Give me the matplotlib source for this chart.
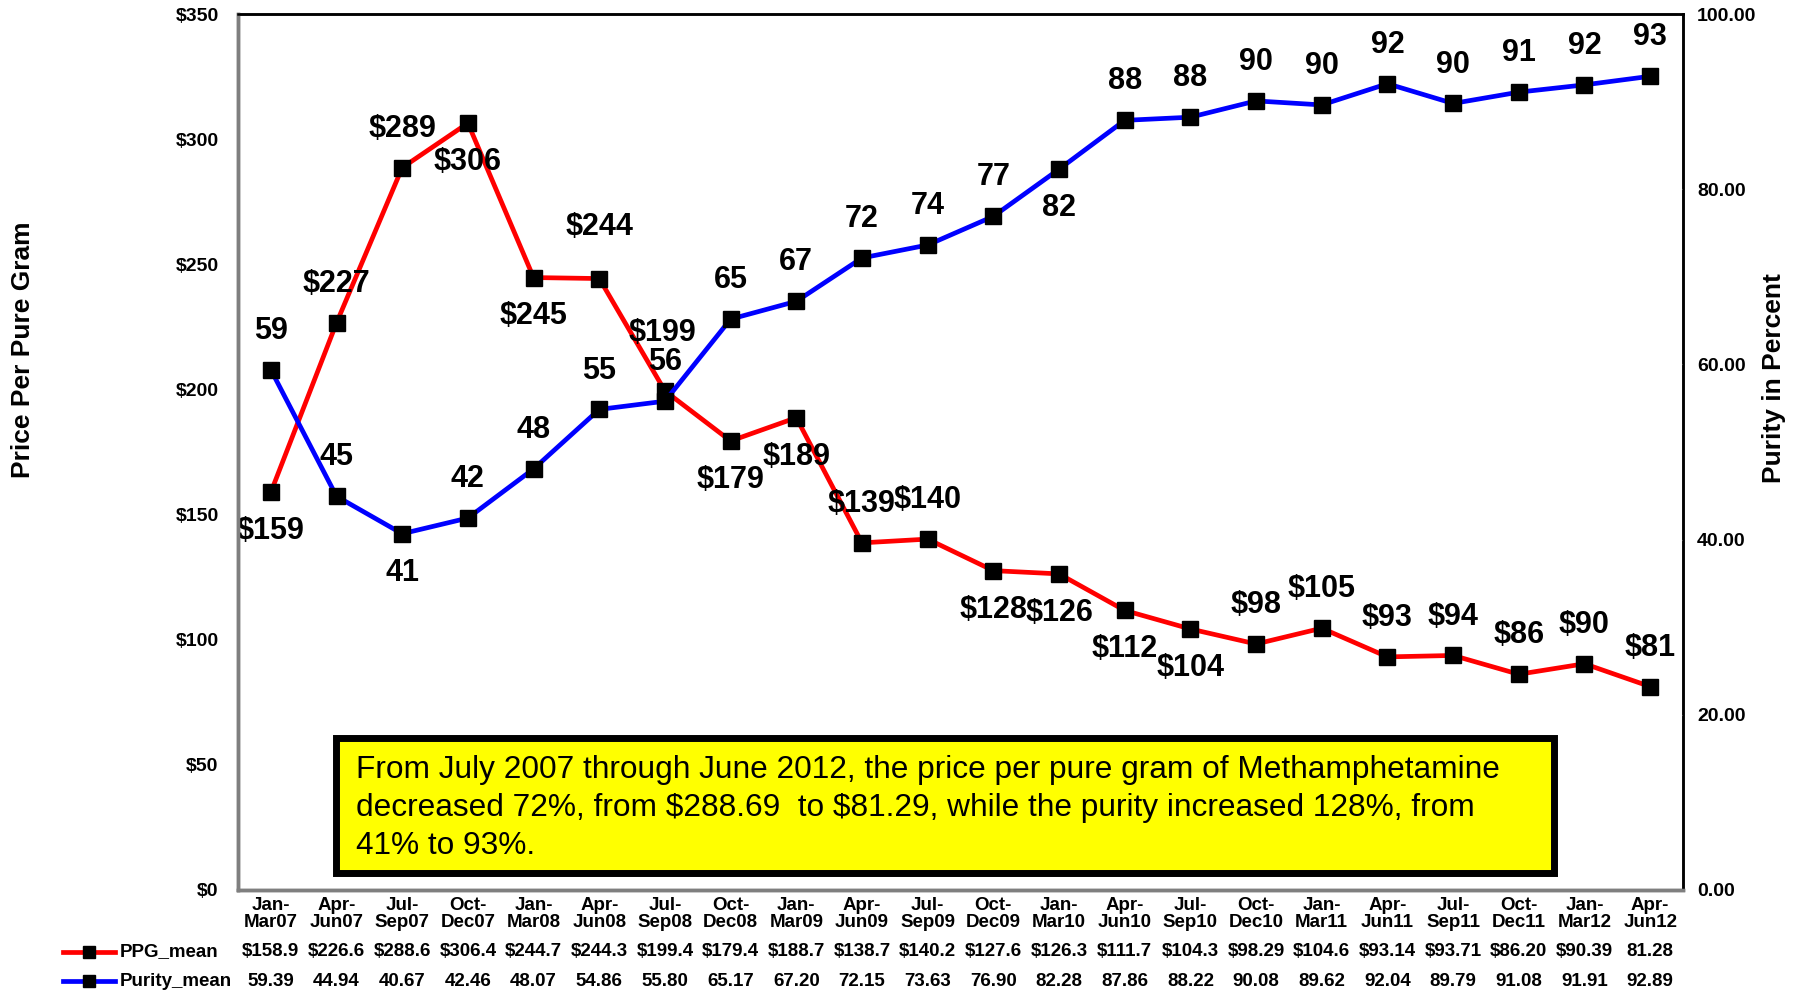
import matplotlib
matplotlib.use("Agg")
import matplotlib.pyplot as plt
from matplotlib.lines import Line2D
from matplotlib.patches import Rectangle
from matplotlib.transforms import blended_transform_factory

plt.rcParams['font.family'] = ['Liberation Sans', 'DejaVu Sans']

categories = ["Jan-\nMar07", "Apr-\nJun07", "Jul-\nSep07", "Oct-\nDec07", "Jan-\nMar08", "Apr-\nJun08",
              "Jul-\nSep08", "Oct-\nDec08", "Jan-\nMar09", "Apr-\nJun09", "Jul-\nSep09", "Oct-\nDec09",
              "Jan-\nMar10", "Apr-\nJun10", "Jul-\nSep10", "Oct-\nDec10", "Jan-\nMar11", "Apr-\nJun11",
              "Jul-\nSep11", "Oct-\nDec11", "Jan-\nMar12", "Apr-\nJun12"]
ppg = [158.9, 226.6, 288.6, 306.4, 244.7, 244.3, 199.4, 179.4, 188.7, 138.7, 140.2, 127.6,
       126.3, 111.7, 104.3, 98.29, 104.6, 93.14, 93.71, 86.20, 90.39, 81.28]
ppg_table = ["$158.9", "$226.6", "$288.6", "$306.4", "$244.7", "$244.3", "$199.4", "$179.4", "$188.7",
             "$138.7", "$140.2", "$127.6", "$126.3", "$111.7", "$104.3", "$98.29", "$104.6", "$93.14",
             "$93.71", "$86.20", "$90.39", "81.28"]
purity = [59.39, 44.94, 40.67, 42.46, 48.07, 54.86, 55.80, 65.17, 67.20, 72.15, 73.63, 76.90,
          82.28, 87.86, 88.22, 90.08, 89.62, 92.04, 89.79, 91.08, 91.91, 92.89]
ppg_labels = ["$159", "$227", "$289", "$306", "$245", "$244", "$199", "$179", "$189", "$139", "$140",
              "$128", "$126", "$112", "$104", "$98", "$105", "$93", "$94", "$86", "$90", "$81"]
purity_labels = ["59", "45", "41", "42", "48", "55", "56", "65", "67", "72", "74", "77", "82", "88",
                 "88", "90", "90", "92", "90", "91", "92", "93"]
# +1 above, -1 below
ppg_side = [-1, 1, 1, -1, -1, 1, 1, -1, -1, 1, 1, -1, -1, -1, -1, 1, 1, 1, 1, 1, 1, 1]
purity_side = [1, 1, -1, 1, 1, 1, 1, 1, 1, 1, 1, 1, -1, 1, 1, 1, 1, 1, 1, 1, 1, 1]
left_ticks = [0, 50, 100, 150, 200, 250, 300, 350]
right_ticks = [0, 20, 40, 60, 80, 100]
note = ("From July 2007 through June 2012, the price per pure gram of Methamphetamine\n"
        "decreased 72%, from \\$288.69  to \\$81.29, while the purity increased 128%, from\n"
        "41% to 93%.")

W, H = 1796, 993
fig = plt.figure(figsize=(W / 100, H / 100), dpi=100)
L, R, T, B = 238, 1683, 14, 890
ax = fig.add_axes([L / W, 1 - B / H, (R - L) / W, (B - T) / H])
ax2 = ax.twinx()

x = list(range(len(categories)))
ax.set_xlim(-0.5, len(categories) - 0.5)
ax.set_ylim(0, 350)
ax2.set_ylim(0, 100)

ax.plot(x, ppg, color='#ff0000', lw=3.4, marker='s', ms=12, mfc='black', mec='black', zorder=3)
ax2.plot(x, purity, color='#0000ff', lw=3.4, marker='s', ms=12, mfc='black', mec='black', zorder=3)

for i in x:
    dy = 28 * ppg_side[i]
    dx = 0
    if i == 6:
        dy, dx = 42, -2
    elif i == 5:
        dy = 37
    ax.annotate(ppg_labels[i].replace('$', r'\$'), (i, ppg[i]), xytext=(dx, dy),
                textcoords='offset points', ha='center', va='center',
                fontsize=22, fontweight='bold', zorder=5)
    ax2.annotate(purity_labels[i], (i, purity[i]), xytext=(0, 28 * purity_side[i]),
                 textcoords='offset points', ha='center', va='center',
                 fontsize=22, fontweight='bold', zorder=5)

ax.set_xticks(x)
ax.set_xticklabels([])
ax.tick_params(axis='x', length=0)
ax.set_yticks(left_ticks)
ax.set_yticklabels([f"\\${v}" for v in left_ticks], fontsize=14, fontweight='bold')
ax.tick_params(axis='y', direction='in', length=4, color='white', pad=14)
ax2.set_yticks(right_ticks)
ax2.set_yticklabels([f"{v:.2f}" for v in right_ticks], fontsize=14, fontweight='bold')
ax2.tick_params(axis='y', direction='in', length=4, color='white', pad=10)
for a in (ax, ax2):
    for s in ('left', 'bottom'):
        a.spines[s].set_color('#7f7f7f')
        a.spines[s].set_linewidth(2.5)
    a.spines['top'].set_color('black')
    a.spines['top'].set_linewidth(1.8)
    a.spines['right'].set_color('black')
    a.spines['right'].set_linewidth(1.8)

fig.text(23 / W, 1 - 350 / H, "Price Per Pure Gram", rotation=90, ha='center', va='center',
         fontsize=19, fontweight='bold')
fig.text(1774 / W, 1 - 378 / H, "Purity in Percent", rotation=90, ha='center', va='center',
         fontsize=19, fontweight='bold')

# category labels and data table
tr = blended_transform_factory(ax.transData, fig.transFigure)
for i in x:
    ax.text(i, 1 - 914 / H, categories[i], transform=tr, ha='center', va='center',
            fontsize=13.5, fontweight='bold', linespacing=1.0)
    ax.text(i, 1 - 952 / H, ppg_table[i].replace('$', r'\$'), transform=tr, ha='center', va='center',
            fontsize=13.5, fontweight='bold')
    ax.text(i, 1 - 981 / H, f"{purity[i]:.2f}", transform=tr, ha='center', va='center',
            fontsize=13.5, fontweight='bold')

for yy, col, name in [(952, '#ff0000', 'PPG_mean'), (981, '#0000ff', 'Purity_mean')]:
    fig.add_artist(Line2D([63 / W, 115 / W], [1 - yy / H, 1 - yy / H], color=col, lw=3.4,
                          transform=fig.transFigure))
    fig.add_artist(Line2D([89 / W], [1 - yy / H], marker='s', ms=8, mfc='black', mec='black',
                          ls='none', transform=fig.transFigure))
    fig.text(120 / W, 1 - yy / H, name, ha='left', va='center', fontsize=13.5, fontweight='bold')

# annotation box
bx0, bx1, by0, by1 = 336, 1554, 738, 873
fig.add_artist(Rectangle((bx0 / W + 0.002, 1 - by1 / H - 0.004), (bx1 - bx0) / W, (by1 - by0) / H,
                         transform=fig.transFigure, facecolor='#a0a0a0', edgecolor='none', zorder=6))
fig.add_artist(Rectangle((bx0 / W, 1 - by1 / H), (bx1 - bx0) / W, (by1 - by0) / H,
                         transform=fig.transFigure, facecolor='#ffff00', edgecolor='black',
                         lw=5, zorder=7))
fig.text(356 / W, 1 - 808 / H, note, ha='left', va='center', fontsize=22.8, linespacing=1.33, zorder=8)

fig.savefig("out.png", dpi=100)
